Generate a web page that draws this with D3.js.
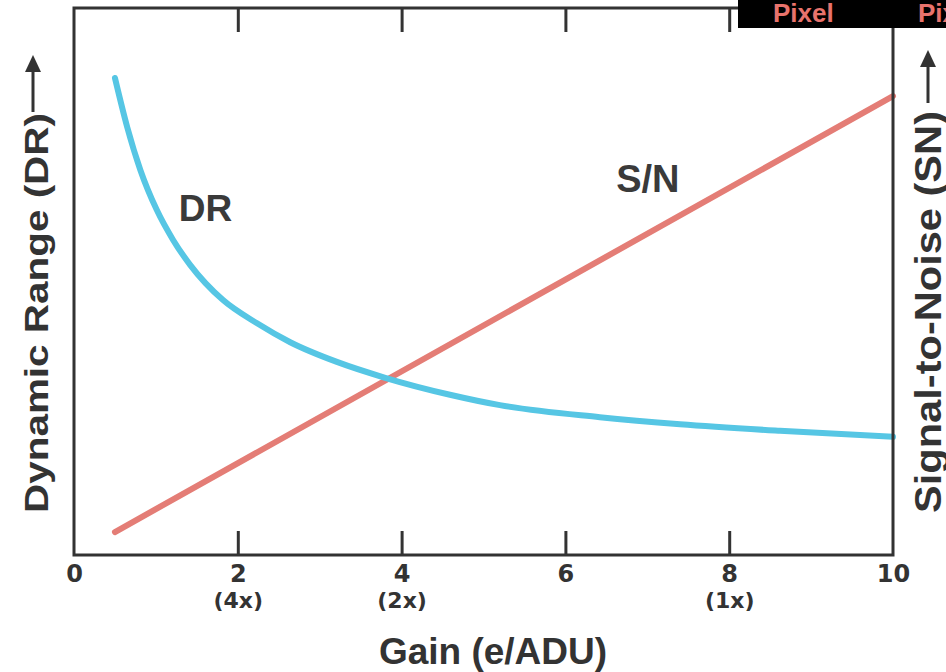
<!DOCTYPE html>
<html lang="en">
  <head>
    <meta charset="utf-8" />
    <title>Gain vs DR and S/N</title>
    <style>
      body { margin: 0; background: #fff; }
      #graph-display { width: 946px; height: 672px; }
    </style>
  </head>
  <body>
    <div id="graph-display"></div>

    <script src="https://d3js.org/d3.v7.min.js"></script>
    <script>
      // values (y is in arbitrary units 0..100)
      const drGain = [0.5, 0.65, 0.81, 1.01, 1.21, 1.42, 1.82, 2.23, 2.64, 3.21, 3.8, 4.59, 5.2, 6.42, 7.4, 8.62, 10];
      const drValues = [87.2, 78.2, 70.4, 63.1, 57.6, 53.0, 46.6, 42.4, 38.9, 35.3, 32.4, 29.3, 27.4, 25.2, 23.9, 22.7, 21.6];
      const snGain = [0.5, 10];
      const snValues = [4.2, 83.9];
      const xTicks = [0, 2, 4, 6, 8, 10];
      const xSubLabels = { 2: "(4x)", 4: "(2x)", 8: "(1x)" };

      const initGraph = (width = 946, height = 672) => {
        let left = 74, right = 893, top = 8, bottom = 555;
        let ink = "#333";

        var xScale = d3.scaleLinear().domain([0, 10]).range([left, right]);
        var yScale = d3.scaleLinear().domain([0, 100]).range([bottom, top]);

        var svg = d3
          .select("#graph-display")
          .append("svg")
          .attr("width", width)
          .attr("height", height)
          .style("font-family", "'Liberation Sans', Arial, sans-serif");

        // curves
        const line = d3.line()
          .x((d) => xScale(d[0]))
          .y((d) => yScale(d[1]))
          .curve(d3.curveMonotoneX);

        svg.append("path")
          .datum(snGain.map((g, i) => [g, snValues[i]]))
          .attr("d", line)
          .attr("fill", "none")
          .attr("stroke", "#e47d76")
          .attr("stroke-width", 6)
          .attr("stroke-linecap", "round");

        svg.append("path")
          .datum(drGain.map((g, i) => [g, drValues[i]]))
          .attr("d", line)
          .attr("fill", "none")
          .attr("stroke", "#56c6e4")
          .attr("stroke-width", 6)
          .attr("stroke-linecap", "round");

        // frame
        svg.append("rect")
          .attr("x", left)
          .attr("y", top)
          .attr("width", right - left)
          .attr("height", bottom - top)
          .attr("fill", "none")
          .attr("stroke", ink)
          .attr("stroke-width", 3);

        // bottom axis, ticks point inwards
        let xAxis = svg.append("g")
          .attr("transform", `translate(0,${bottom})`)
          .call(d3.axisBottom(xScale).tickValues(xTicks).tickSizeInner(-24).tickSizeOuter(0).tickPadding(10).tickFormat(d3.format("d")));
        xAxis.select(".domain").remove();
        xAxis.selectAll("line").attr("stroke", ink).attr("stroke-width", 3);
        xAxis.selectAll(".tick").filter((d) => d === 0 || d === 10).select("line").remove();
        xAxis.selectAll("text")
          .attr("fill", ink)
          .style("font-family", "'DejaVu Sans', sans-serif")
          .style("font-weight", "bold")
          .style("font-size", "24px");
        xAxis.selectAll(".tick")
          .filter((d) => xSubLabels[d])
          .append("text")
          .attr("y", 53)
          .attr("fill", ink)
          .attr("text-anchor", "middle")
          .style("font-family", "'DejaVu Sans', sans-serif")
          .style("font-weight", "bold")
          .style("font-size", "22px")
          .text((d) => xSubLabels[d]);

        // top axis, ticks only
        let topAxis = svg.append("g")
          .attr("transform", `translate(0,${top})`)
          .call(d3.axisTop(xScale).tickValues([2, 4, 6, 8]).tickSizeInner(-24).tickSizeOuter(0).tickFormat(""));
        topAxis.select(".domain").remove();
        topAxis.selectAll("line").attr("stroke", ink).attr("stroke-width", 3);

        // axis titles
        svg.append("text")
          .attr("x", 493)
          .attr("y", 664)
          .attr("text-anchor", "middle")
          .attr("fill", ink)
          .style("font-weight", "bold")
          .style("font-size", "37px")
          .text("Gain (e/ADU)");

        const sideTitle = (x, y0, len, label, arrowX, arrowTop, arrowBottom, size) => {
          svg.append("text")
            .attr("transform", `translate(${x},${y0}) rotate(-90)`)
            .attr("fill", ink)
            .attr("textLength", len)
            .attr("lengthAdjust", "spacingAndGlyphs")
            .style("font-weight", "bold")
            .style("font-size", size + "px")
            .text(label);
          svg.append("line")
            .attr("x1", arrowX).attr("x2", arrowX)
            .attr("y1", arrowBottom).attr("y2", arrowTop + 14)
            .attr("stroke", ink)
            .attr("stroke-width", 3);
          svg.append("path")
            .attr("d", `M${arrowX},${arrowTop} L${arrowX - 8},${arrowTop + 17} L${arrowX + 8},${arrowTop + 17} Z`)
            .attr("fill", ink);
        };
        sideTitle(48, 513, 400, "Dynamic Range (DR)", 33, 55, 112, 34);
        sideTitle(941, 513, 402, "Signal-to-Noise (SN)", 928, 50, 103, 36);

        // curve labels
        svg.append("text")
          .attr("x", xScale(1.28))
          .attr("y", 221)
          .attr("fill", "#3a3a3a")
          .style("font-weight", "bold")
          .style("font-size", "37px")
          .text("DR");

        svg.append("text")
          .attr("x", xScale(6.62))
          .attr("y", 192)
          .attr("fill", "#3a3a3a")
          .style("font-weight", "bold")
          .style("font-size", "38px")
          .text("S/N");

        // black tab cut off in the top right corner
        let tab = svg.append("g");
        tab.append("rect")
          .attr("x", 738).attr("y", 0)
          .attr("width", width - 738).attr("height", 28)
          .attr("fill", "#000");
        tab.selectAll("text")
          .data([["Pixel", 773], ["Pixel", 918]])
          .enter()
          .append("text")
          .attr("x", (d) => d[1])
          .attr("y", 22)
          .attr("fill", "#e8736c")
          .style("font-weight", "bold")
          .style("font-size", "26px")
          .text((d) => d[0]);
      };

      window.addEventListener("DOMContentLoaded", function () {
        initGraph(946, 672);
      });
    </script>
  </body>
</html>
